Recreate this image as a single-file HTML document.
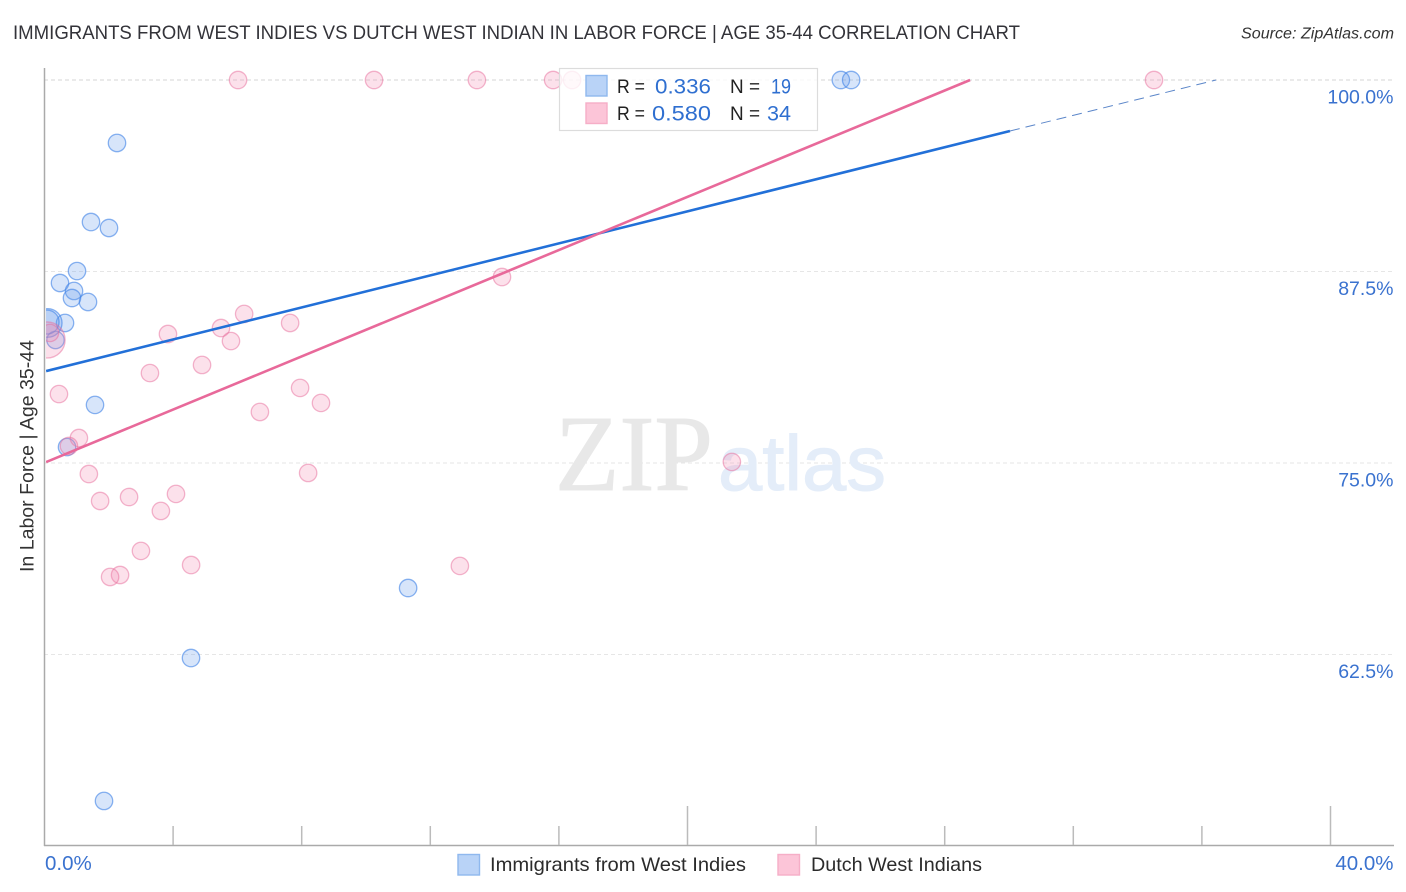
<!DOCTYPE html>
<html>
<head>
<meta charset="utf-8">
<style>
html,body{margin:0;padding:0;background:#fff;width:1406px;height:892px;overflow:hidden}
svg{display:block}
text{font-family:"Liberation Sans",sans-serif}
</style>
</head>
<body>
<svg id="chart" xmlns="http://www.w3.org/2000/svg" width="1406" height="892" viewBox="0 0 1406 892">
  <defs><clipPath id="plot-clip"><rect x="46" y="60" width="1350" height="786"/></clipPath></defs>
  <rect x="0" y="0" width="1406" height="892" fill="#fff"/>
  <text x="13" y="39" font-size="19.5" fill="#333339" textLength="1007" lengthAdjust="spacingAndGlyphs">IMMIGRANTS FROM WEST INDIES VS DUTCH WEST INDIAN IN LABOR FORCE | AGE 35-44 CORRELATION CHART</text>
  <text x="1241" y="38.5" font-size="15.5" font-style="italic" fill="#333" textLength="153" lengthAdjust="spacingAndGlyphs">Source: ZipAtlas.com</text>
  <g id="grid"></g>
  <g>
    <text x="555" y="490" style="font-family:'Liberation Serif',serif" font-size="108" fill="#e8e8e8" stroke="#e8e8e8" stroke-width="1" textLength="158" lengthAdjust="spacingAndGlyphs">ZIP</text>
    <text x="718" y="490" font-size="78" fill="#e4edf9" stroke="#e4edf9" stroke-width="1" textLength="168" lengthAdjust="spacingAndGlyphs">atlas</text>
  </g>
  <g id="points" clip-path="url(#plot-clip)"></g>
  <g id="trends" clip-path="url(#plot-clip)"></g>
  <g id="axes"></g>
  <text transform="translate(33.5,572) rotate(-90)" x="0" y="0" font-size="19.5" fill="#333" textLength="232" lengthAdjust="spacingAndGlyphs">In Labor Force | Age 35-44</text>

  <g>
    <rect x="559.5" y="68.5" width="258" height="62" fill="#fff" fill-opacity="0.8" stroke="#dcdcdc" stroke-width="1.2"/>
    <rect x="586" y="75.5" width="21" height="20.5" fill="#b9d3f7" stroke="#8fb8ee" stroke-width="1.4"/>
    <rect x="586" y="103" width="21" height="20.5" fill="#fcc5d8" stroke="#f6aec7" stroke-width="1.4"/>
    <text x="617" y="93" font-size="19.5" fill="#222" textLength="28" lengthAdjust="spacingAndGlyphs">R =</text>
    <text x="655" y="93.5" font-size="21" fill="#2f6fd0" textLength="56" lengthAdjust="spacingAndGlyphs">0.336</text>
    <text x="730" y="93" font-size="19.5" fill="#222" textLength="30" lengthAdjust="spacingAndGlyphs">N =</text>
    <text x="771" y="93.5" font-size="21" fill="#2f6fd0" textLength="20" lengthAdjust="spacingAndGlyphs">19</text>
    <text x="617" y="120" font-size="19.5" fill="#222" textLength="28" lengthAdjust="spacingAndGlyphs">R =</text>
    <text x="652" y="120.5" font-size="21" fill="#2f6fd0" textLength="59" lengthAdjust="spacingAndGlyphs">0.580</text>
    <text x="730" y="120" font-size="19.5" fill="#222" textLength="30" lengthAdjust="spacingAndGlyphs">N =</text>
    <text x="767" y="120.5" font-size="21" fill="#2f6fd0" textLength="24" lengthAdjust="spacingAndGlyphs">34</text>
  </g>

  <g>
    <rect x="458" y="854.5" width="21.5" height="20.5" fill="#b9d3f7" stroke="#8fb8ee" stroke-width="1.4"/>
    <text x="490" y="871" font-size="19.5" fill="#2b2b2b" textLength="256" lengthAdjust="spacingAndGlyphs">Immigrants from West Indies</text>
    <rect x="778" y="854.5" width="21.5" height="20.5" fill="#fcc5d8" stroke="#f6aec7" stroke-width="1.4"/>
    <text x="811" y="871" font-size="19.5" fill="#2b2b2b" textLength="171" lengthAdjust="spacingAndGlyphs">Dutch West Indians</text>
  </g>
</svg>
<script>
// Horizontal axis: percent; vertical axis: percent
const yTickValues = [100, 87.5, 75, 62.5];
const yTickLabels = ["100.0%", "87.5%", "75.0%", "62.5%"];
const xTickValues = [4, 8, 12, 16, 20, 24, 28, 32, 36, 40];
const xMajorTicks = [20, 40];
const xEndLabels = ["0.0%", "40.0%"];

const blueX = [2.255, 1.446, 2.006, 1.011, 0.482, 0.918, 0.855, 1.353, 0.638, 0.342, 1.571, 0.70, 11.31, 4.557, 1.851, 24.77, 25.09, 0.10, 0.08];
const blueY = [95.89, 90.73, 90.34, 87.53, 86.75, 86.23, 85.77, 85.51, 84.14, 83.03, 78.79, 76.04, 66.84, 62.27, 52.94, 100, 100, 84.14, 84.2];
const blueCount = [1, 1, 1, 1, 1, 1, 1, 1, 1, 1, 1, 1, 1, 1, 1, 1, 1, 2.7, 1.9];

const pinkX = [6.02, 10.25, 13.45, 15.82, 16.41, 34.51, 14.23, 6.21, 7.64, 5.49, 3.84, 5.80, 4.90, 3.28, 7.95, 0.45, 8.60, 6.70, 1.07, 0.76, 1.38, 8.20, 21.38, 1.73, 2.63, 4.09, 3.62, 3.00, 2.35, 2.04, 4.56, 12.92, 0.08, 0.17];
const pinkY = [100, 100, 100, 100, 100, 100, 87.14, 84.73, 84.14, 83.81, 83.42, 82.96, 81.40, 80.87, 79.90, 79.50, 78.92, 78.33, 76.63, 76.11, 74.28, 74.35, 75.07, 72.52, 72.78, 72.98, 71.87, 69.26, 67.69, 67.56, 68.34, 68.28, 83.03, 83.49];
const pinkCount = [1, 1, 1, 1, 1, 1, 1, 1, 1, 1, 1, 1, 1, 1, 1, 1, 1, 1, 1, 1, 1, 1, 1, 1, 1, 1, 1, 1, 1, 1, 1, 1, 4.3, 1];

const blueTrendX = [0.05, 30.03];
const blueTrendY = [81.0, 96.67];
const blueDashX = [30.03, 36.44];
const blueDashY = [96.67, 100];
const pinkTrendX = [0.05, 28.79];
const pinkTrendY = [75.06, 100];

const NS = 'http://www.w3.org/2000/svg';
function sx(v) { return 44.5 + v * 32.15; }
function sy(v) { return 80 + (100 - v) * 15.32; }
function mk(tag, parent, attrs) {
  const el = document.createElementNS(NS, tag);
  for (const k in attrs) el.setAttribute(k, attrs[k]);
  parent.appendChild(el);
  return el;
}

const grid = document.getElementById('grid');
const axes = document.getElementById('axes');
const points = document.getElementById('points');
const trends = document.getElementById('trends');

yTickValues.forEach(function (v, i) {
  const line = mk('line', grid, { x1: 44, x2: 1394, y1: sy(v), y2: sy(v), stroke: i === 0 ? '#d6d6d6' : '#e6e6e6', 'stroke-width': 1, 'stroke-dasharray': '4 3' });
  
  
  const label = mk('text', axes, { x: 1393.5, y: sy(v) + 23.5, 'font-size': 19.5, fill: '#3a72cf', 'text-anchor': 'end' });
  label.textContent = yTickLabels[i];
  
  
});

const yAxis = mk('line', axes, { x1: 44.5, x2: 44.5, y1: 68, y2: 846, stroke: '#aaa', 'stroke-width': 1.5 });


const xAxis = mk('line', axes, { x1: 44, x2: 1394, y1: 845.5, y2: 845.5, stroke: '#aaa', 'stroke-width': 1.5 });



xTickValues.forEach(function (v) {
  const top = xMajorTicks.indexOf(v) >= 0 ? 806 : 826;
  const tick = mk('line', axes, { x1: sx(v), x2: sx(v), y1: top, y2: 845, stroke: '#bbb', 'stroke-width': 1.5 });
  
  
});

const xLabelStart = mk('text', axes, { x: 45, y: 870, 'font-size': 20.5, fill: '#3a72cf' });
xLabelStart.textContent = xEndLabels[0];


const xLabelEnd = mk('text', axes, { x: 1393.5, y: 870, 'font-size': 20.5, fill: '#3a72cf', 'text-anchor': 'end' });
xLabelEnd.textContent = xEndLabels[1];



blueX.forEach(function (v, i) {
  const c = mk('circle', points, { cx: sx(v), cy: sy(blueY[i]), r: 8.7 * Math.sqrt(blueCount[i]), fill: 'rgba(100,155,235,0.26)', stroke: 'rgba(66,133,230,0.62)', 'stroke-width': 1.3 });
  
  
});
pinkX.forEach(function (v, i) {
  const c = mk('circle', points, { cx: sx(v), cy: sy(pinkY[i]), r: 8.7 * Math.sqrt(pinkCount[i]), fill: 'rgba(244,130,170,0.24)', stroke: 'rgba(232,110,155,0.5)', 'stroke-width': 1.3 });
  
  
});

const blueLine = mk('line', trends, { x1: sx(blueTrendX[0]), y1: sy(blueTrendY[0]), x2: sx(blueTrendX[1]), y2: sy(blueTrendY[1]), stroke: '#2270d8', 'stroke-width': 2.6 });


const blueDash = mk('line', trends, { x1: sx(blueDashX[0]), y1: sy(blueDashY[0]), x2: sx(blueDashX[1]), y2: sy(blueDashY[1]), stroke: '#5b86c9', 'stroke-width': 1, 'stroke-dasharray': '10 6' });


const pinkLine = mk('line', trends, { x1: sx(pinkTrendX[0]), y1: sy(pinkTrendY[0]), x2: sx(pinkTrendX[1]), y2: sy(pinkTrendY[1]), stroke: '#e8699a', 'stroke-width': 2.6 });


</script>
</body>
</html>
